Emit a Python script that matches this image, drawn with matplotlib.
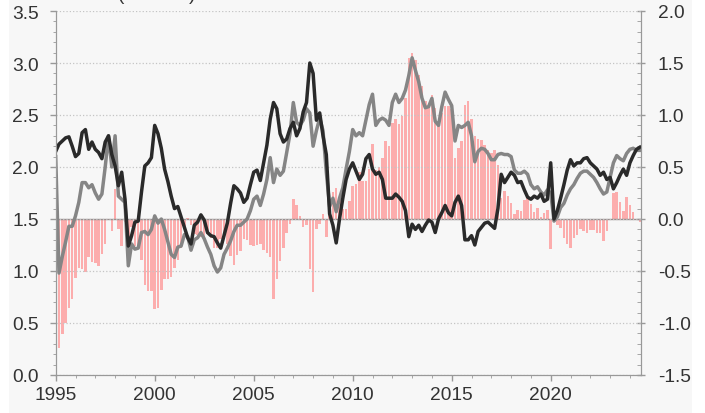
import numpy as np
import matplotlib.pyplot as plt
import matplotlib.patches as patches
from matplotlib.ticker import MultipleLocator, FormatStrFormatter

plt.rcParams['font.family'] = ['Liberation Sans', 'DejaVu Sans']

# bimonthly observations starting Jan 1995
start_year = 1995
per_year = 6

black_line = [
    2.15, 2.22, 2.25, 2.28, 2.29, 2.20, 2.10, 2.13, 2.33, 2.36, 2.17, 2.24,
    2.17, 2.14, 2.08, 2.24, 2.30, 2.12, 2.01, 1.82, 1.95, 1.69, 1.24, 1.34,
    1.47, 1.48, 1.76, 2.01, 2.04, 2.09, 2.40, 2.32, 2.18, 1.98, 1.86, 1.72,
    1.60, 1.62, 1.52, 1.42, 1.32, 1.26, 1.44, 1.47, 1.54, 1.49, 1.37, 1.34,
    1.33, 1.27, 1.22, 1.34, 1.46, 1.65, 1.82, 1.79, 1.75, 1.66, 1.70, 1.83,
    1.95, 1.97, 1.87, 2.04, 2.21, 2.46, 2.62, 2.56, 2.32, 2.24, 2.27, 2.37,
    2.43, 2.30, 2.37, 2.53, 2.62, 3.00, 2.90, 2.45, 2.52, 2.30, 2.12, 1.55,
    1.44, 1.27, 1.50, 1.70, 1.88, 1.98, 2.04, 1.96, 1.88, 1.93, 2.08, 2.12,
    1.98, 1.93, 1.95, 1.88, 1.70, 1.70, 1.70, 1.74, 1.71, 1.67, 1.58, 1.33,
    1.45, 1.40, 1.44, 1.38, 1.44, 1.49, 1.47, 1.37, 1.50, 1.56, 1.63, 1.56,
    1.53, 1.66, 1.72, 1.63, 1.30, 1.30, 1.34, 1.25, 1.38, 1.42, 1.46, 1.47,
    1.44, 1.41, 1.60, 1.93, 1.85, 1.90, 1.95, 1.92, 1.85, 1.86, 1.78, 1.71,
    1.69, 1.72, 1.70, 1.74, 1.67, 1.69, 2.04, 1.50, 1.58, 1.70, 1.83, 1.97,
    2.07, 2.01, 2.04, 2.04, 2.08, 2.09, 2.04, 2.01, 1.98, 1.92, 1.95, 1.88,
    1.90, 1.79, 1.85, 1.92, 1.98, 1.92, 2.04, 2.11, 2.17, 2.19,
]

grey_line = [
    2.10, 0.98, 1.14, 1.28, 1.43, 1.43, 1.53, 1.66, 1.85, 1.85, 1.80, 1.83,
    1.75, 1.69, 1.74, 2.00, 2.30, 2.00, 2.30, 1.72, 1.69, 1.66, 1.05, 1.26,
    1.21, 1.22, 1.37, 1.38, 1.35, 1.40, 1.53, 1.46, 1.50, 1.40, 1.28, 1.16,
    1.13, 1.23, 1.24, 1.35, 1.33, 1.20, 1.30, 1.32, 1.37, 1.31, 1.23, 1.16,
    1.05, 0.99, 1.03, 1.16, 1.22, 1.29, 1.38, 1.44, 1.44, 1.47, 1.50, 1.58,
    1.69, 1.72, 1.63, 1.74, 1.88, 2.09, 1.85, 1.98, 1.92, 1.96, 2.14, 2.32,
    2.62, 2.43, 2.40, 2.45, 2.56, 2.52, 2.20, 2.35, 2.47, 2.35, 1.95, 1.62,
    1.70, 1.57, 1.70, 1.80, 1.98, 2.15, 2.36, 2.30, 2.33, 2.30, 2.45, 2.60,
    2.70, 2.40, 2.45, 2.47, 2.45, 2.40, 2.62, 2.70, 2.62, 2.66, 2.74, 2.88,
    3.05, 2.93, 2.82, 2.66, 2.57, 2.58, 2.66, 2.44, 2.40, 2.58, 2.72, 2.65,
    2.59, 2.25, 2.40, 2.38, 2.40, 2.43, 2.30, 2.05, 2.15, 2.18, 2.17, 2.13,
    2.07, 2.07, 2.12, 2.13, 2.12, 2.12, 2.10, 1.97, 1.94, 1.94, 1.96, 1.93,
    1.83, 1.79, 1.81, 1.76, 1.73, 1.78, 1.75, 1.48, 1.52, 1.61, 1.65, 1.73,
    1.79, 1.83, 1.89, 1.94, 1.96, 1.96, 1.93, 1.90, 1.85, 1.79, 1.74, 1.76,
    1.90, 2.04, 2.11, 2.08, 2.06, 2.13, 2.17, 2.18, 2.16, 2.16,
]

year_ticks = [1995, 2000, 2005, 2010, 2015, 2020]

t = start_year + np.arange(len(black_line)) / per_year
spread = np.array(grey_line) - np.array(black_line)

fig = plt.figure(figsize=(7.05, 4.14), dpi=100, facecolor='white')
fig.patches.append(patches.Rectangle((9 / 705, 0), 683 / 705, 1,
                                     transform=fig.transFigure,
                                     facecolor='#f7f7f7', edgecolor='none',
                                     zorder=-10))
ax = fig.add_axes([55.7 / 705, 38 / 414, (641 - 55.7) / 705, 364 / 414])
ax2 = ax.twinx()
ax.set_zorder(ax2.get_zorder() + 1)
ax.patch.set_visible(False)
ax2.patch.set_facecolor('#f7f7f7')

# spread bars on right axis
ax2.bar(t, spread, width=0.13, color='#ff9595', alpha=0.75, linewidth=0)
ax2.axhline(0, color='#9a8e8e', lw=1)

ax.plot(t, grey_line, color='#858585', lw=2.5, solid_joinstyle='round')
ax.plot(t, black_line, color='#2a2a2a', lw=2.5, solid_joinstyle='round')

ax.set_xlim(1995, 2024.56)
ax.set_ylim(0, 3.5)
ax2.set_ylim(-1.5, 2.0)

for a in (ax, ax2):
    for s in a.spines.values():
        s.set_color('#999999')
    a.spines['top'].set_visible(False)

ax.set_xticks(year_ticks)
ax.xaxis.set_minor_locator(MultipleLocator(1))
ax.yaxis.set_major_locator(MultipleLocator(0.5))
ax.yaxis.set_minor_locator(MultipleLocator(0.1))
ax.yaxis.set_major_formatter(FormatStrFormatter('%.1f'))
ax2.yaxis.set_major_locator(MultipleLocator(0.5))
ax2.yaxis.set_minor_locator(MultipleLocator(0.1))
ax2.yaxis.set_major_formatter(FormatStrFormatter('%.1f'))

ax.grid(axis='y', which='major', linestyle=':', color='#c4c4c4', lw=0.9)

ax.tick_params(axis='x', which='major', direction='out', length=4, width=1,
               color='#999999', labelsize=13.8, labelcolor='#333333', pad=4)
ax.tick_params(axis='x', which='minor', direction='out', length=2.5,
               color='#999999')
ax.tick_params(axis='y', which='major', direction='out', length=4, width=1,
               color='#999999', labelsize=13.8, labelcolor='#333333', pad=8)
ax.tick_params(axis='y', which='minor', direction='out', length=2.5,
               color='#999999')
ax2.tick_params(axis='y', which='major', direction='inout', length=6, width=1,
                color='#999999', labelsize=13.8, labelcolor='#333333', pad=9)
ax2.tick_params(axis='y', which='minor', direction='in', length=3,
                color='#999999')

# title is cut off at the top edge of the image
fig.text(157 / 705, 1.0, '(% rates)', ha='center', va='baseline',
         fontsize=13.8, color='#333333')

fig.savefig('out.png', dpi=100, facecolor=fig.get_facecolor())
